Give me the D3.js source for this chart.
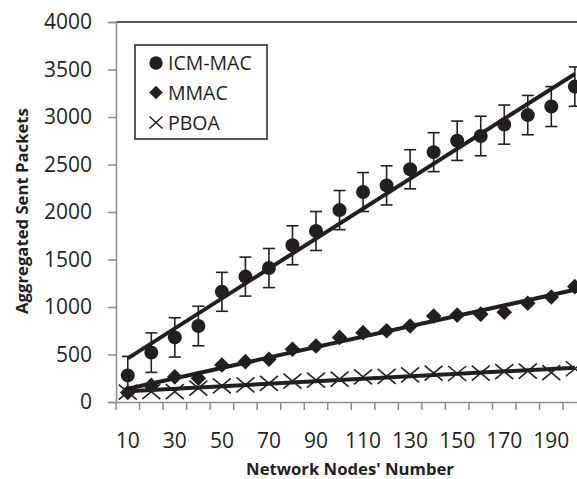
<!DOCTYPE html>
<html>
<head>
<meta charset="utf-8">
<script src="https://cdn.jsdelivr.net/npm/d3@7/dist/d3.min.js"></script>
<style>
  html, body { margin: 0; padding: 0; background: #fff; }
  svg { display: block; }
  text { font-family: "Open Sans", sans-serif; fill: #231f20; }
</style>
</head>
<body>
<svg id="chart" width="577" height="479"></svg>
<script>
// ---- data ----
const categories = [10, 20, 30, 40, 50, 60, 70, 80, 90, 100, 110, 120, 130, 140, 150, 160, 170, 180, 190, 200];
const icmMac = [280, 520, 680, 800, 1160, 1320, 1410, 1650, 1800, 2020, 2210, 2280, 2450, 2630, 2750, 2800, 2920, 3020, 3110, 3320];
const icmMacErr = [200, 208, 207, 208, 205, 205, 206, 205, 205, 206, 205, 206, 206, 205, 207, 208, 206, 207, 210, 207];
const mmac = [100, 175, 265, 250, 390, 425, 450, 555, 590, 680, 730, 750, 800, 905, 915, 925, 945, 1040, 1105, 1215];
const pboa = [105, 110, 110, 145, 170, 180, 195, 220, 230, 240, 265, 270, 285, 305, 300, 305, 320, 325, 310, 350];
const yTicks = [0, 500, 1000, 1500, 2000, 2500, 3000, 3500, 4000];
const xTickLabels = [10, 30, 50, 70, 90, 110, 130, 150, 170, 190];
const seriesNames = ["ICM-MAC", "MMAC", "PBOA"];

(function () {
const ink = "#231f20";
const axisGray = "#8c8c8c";

const svg = d3.select("#chart");
const plotLeft = 116, plotTop = 22, plotBottom = 402;
const step = 23.53;

const x = d3.scaleBand().domain(categories).range([plotLeft, plotLeft + step * categories.length]).padding(0);
const y = d3.scaleLinear().domain([0, 4000]).range([plotBottom, plotTop]);
const cx = c => x(c) + x.bandwidth() / 2;

// top border of plot area
svg.append("line")
  .attr("x1", plotLeft).attr("x2", plotLeft + step * categories.length)
  .attr("y1", plotTop).attr("y2", plotTop)
  .attr("stroke", ink).attr("stroke-width", 1.5);

// y axis
const yAxis = svg.append("g")
  .attr("transform", `translate(${plotLeft},0)`)
  .call(d3.axisLeft(y).tickValues(yTicks).tickSize(8).tickPadding(16).tickFormat(d3.format("d")));
yAxis.select(".domain").attr("stroke", axisGray).attr("stroke-width", 1.5);
yAxis.selectAll(".tick line").attr("stroke", axisGray).attr("stroke-width", 1.5);
yAxis.selectAll(".tick text").attr("font-size", 21).attr("font-family", "Open Sans").attr("fill", ink);

// x axis (labels at category centers, every other category)
const xAxis = svg.append("g")
  .attr("transform", `translate(0,${plotBottom})`)
  .call(d3.axisBottom(x).tickValues(xTickLabels).tickSize(0).tickPadding(31));
xAxis.select(".domain").attr("stroke", axisGray).attr("stroke-width", 1.5);
xAxis.selectAll(".tick text").attr("font-size", 21).attr("font-family", "Open Sans").attr("fill", ink);
// x tick marks at category boundaries
const boundaries = categories.map(c => x(c)).concat([x(categories[categories.length - 1]) + x.bandwidth()]);
svg.append("g").selectAll("line").data(boundaries).join("line")
  .attr("x1", d => d).attr("x2", d => d)
  .attr("y1", plotBottom).attr("y2", plotBottom + 8)
  .attr("stroke", axisGray).attr("stroke-width", 1.5);

// axis titles
svg.append("text")
  .attr("x", 350).attr("y", 475)
  .attr("text-anchor", "middle")
  .attr("font-size", 16.7).attr("font-weight", "bold")
  .text("Network Nodes' Number");
svg.append("text")
  .attr("transform", "translate(28,211) rotate(-90)")
  .attr("text-anchor", "middle")
  .attr("font-size", 16.7).attr("font-weight", "bold")
  .text("Aggregated Sent Packets");

// linear trend line (least squares over category index 1..n)
function trend(vals) {
  const n = vals.length;
  const xs = vals.map((_, i) => i + 1);
  const mx = d3.mean(xs), my = d3.mean(vals);
  let sxy = 0, sxx = 0;
  xs.forEach((xi, i) => { sxy += (xi - mx) * (vals[i] - my); sxx += (xi - mx) * (xi - mx); });
  const b = sxy / sxx, a = my - b * mx;
  return [[categories[0], a + b * 1], [categories[n - 1], a + b * n]];
}

const plot = svg.append("g");

// error bars ICM-MAC
const eb = plot.append("g").attr("stroke", ink).attr("stroke-width", 1.6);
categories.forEach((c, i) => {
  const xc = cx(c), y1 = y(icmMac[i] + icmMacErr[i]), y2 = y(icmMac[i] - icmMacErr[i]);
  eb.append("line").attr("x1", xc).attr("x2", xc).attr("y1", y1).attr("y2", y2);
  eb.append("line").attr("x1", xc - 6).attr("x2", xc + 6).attr("y1", y1).attr("y2", y1);
  eb.append("line").attr("x1", xc - 6).attr("x2", xc + 6).attr("y1", y2).attr("y2", y2);
});

// PBOA crosses
const crossPath = (s, h) => `M${-s},${-h}L${s},${h}M${-s},${h}L${s},${-h}`;
plot.append("g").selectAll("path").data(pboa).join("path")
  .attr("transform", (d, i) => `translate(${cx(categories[i])},${y(d)})`)
  .attr("d", crossPath(9, 7.5))
  .attr("fill", "none").attr("stroke", ink).attr("stroke-width", 1.6);

// MMAC diamonds
const diamondPath = r => `M0,${-r}L${r},0L0,${r}L${-r},0Z`;
plot.append("g").selectAll("path").data(mmac).join("path")
  .attr("transform", (d, i) => `translate(${cx(categories[i])},${y(d)})`)
  .attr("d", diamondPath(7.8))
  .attr("fill", ink);

// ICM-MAC circles
plot.append("g").selectAll("circle").data(icmMac).join("circle")
  .attr("cx", (d, i) => cx(categories[i])).attr("cy", d => y(d)).attr("r", 7)
  .attr("fill", ink);

// trend lines
[icmMac, mmac, pboa].forEach(vals => {
  const t = trend(vals);
  plot.append("line")
    .attr("x1", cx(t[0][0])).attr("y1", y(t[0][1]))
    .attr("x2", cx(t[1][0])).attr("y2", y(t[1][1]))
    .attr("stroke", ink).attr("stroke-width", 4);
});

// legend
const lg = svg.append("g");
lg.append("rect").attr("x", 135).attr("y", 45).attr("width", 132).attr("height", 94)
  .attr("fill", "#fff").attr("stroke", ink).attr("stroke-width", 1.5);
const rowsY = [63, 92.5, 122.5];
lg.append("circle").attr("cx", 156).attr("cy", rowsY[0]).attr("r", 6.7).attr("fill", ink);
lg.append("path").attr("transform", `translate(156,${rowsY[1]})`).attr("d", diamondPath(6.8)).attr("fill", ink);
lg.append("path").attr("transform", `translate(156,${rowsY[2]})`).attr("d", crossPath(6.5, 6)).attr("fill", "none").attr("stroke", ink).attr("stroke-width", 1.5);
seriesNames.forEach((name, i) => {
  lg.append("text").attr("x", 168).attr("y", rowsY[i] + 7.2)
    .attr("font-size", 19.5).text(name);
});
})();
</script>
</body>
</html>
